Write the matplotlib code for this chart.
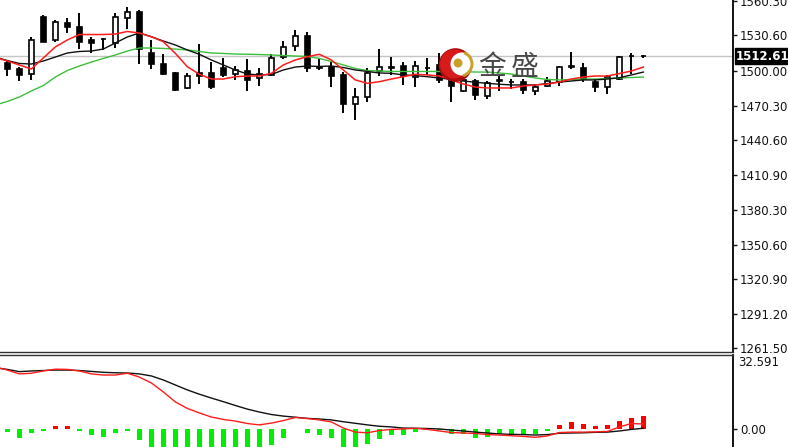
import numpy as np
import matplotlib
matplotlib.use("Agg")
import matplotlib.pyplot as plt
from matplotlib.patches import Circle, Wedge

# ---------------- data ----------------
opens = [1506.6, 1501.5, 1497.2, 1546.7, 1526.7, 1541.1, 1538.1, 1526.7, 1527.6, 1523.8,
         1545.6, 1551.2, 1515.7, 1505.8, 1498.0, 1485.1, 1498.0, 1498.0, 1502.8, 1497.2,
         1500.0, 1494.2, 1496.6, 1512.3, 1521.8, 1530.4, 1503.7, 1503.7, 1496.6, 1471.3,
         1477.9, 1500.0, 1502.8, 1504.6, 1495.1, 1502.3, 1505.2, 1498.3, 1482.8, 1491.4,
         1478.7, 1492.3, 1490.6, 1490.8, 1482.8, 1487.1, 1490.3, 1503.5, 1502.8, 1490.8,
         1486.5, 1493.1, 1512.6, 1512.9]
highs = [1509.5, 1503.7, 1529.5, 1548.2, 1543.9, 1545.4, 1549.7, 1529.5, 1528.0, 1549.7,
         1555.5, 1552.5, 1526.7, 1514.4, 1499.4, 1498.0, 1523.0, 1507.5, 1510.9, 1504.6,
         1510.3, 1502.8, 1514.4, 1525.8, 1535.3, 1533.8, 1511.4, 1507.5, 1499.4, 1485.6,
         1502.8, 1518.9, 1512.3, 1508.0, 1508.6, 1510.9, 1515.2, 1500.9, 1494.0, 1493.1,
         1491.4, 1495.7, 1493.1, 1493.1, 1488.6, 1495.1, 1503.9, 1516.6, 1506.6, 1493.1,
         1496.6, 1513.2, 1515.2, 1513.8]
lows = [1496.0, 1491.4, 1492.3, 1524.7, 1525.2, 1532.4, 1518.9, 1515.2, 1518.1, 1520.1,
        1536.1, 1506.0, 1501.7, 1496.6, 1482.8, 1484.5, 1488.6, 1484.5, 1495.1, 1492.3,
        1482.8, 1487.3, 1495.7, 1510.3, 1517.2, 1499.4, 1500.9, 1486.0, 1463.6, 1457.8,
        1473.1, 1496.0, 1496.6, 1488.0, 1486.5, 1496.6, 1489.4, 1473.3, 1481.7, 1475.0,
        1475.9, 1482.8, 1484.5, 1479.9, 1479.3, 1486.5, 1487.3, 1501.7, 1490.3, 1482.2,
        1479.9, 1492.3, 1497.8, 1511.5]
closes = [1501.5, 1496.6, 1526.7, 1525.2, 1542.4, 1537.6, 1525.2, 1523.8, 1527.2, 1546.7,
          1550.8, 1518.9, 1505.8, 1497.2, 1483.6, 1496.0, 1496.0, 1486.5, 1496.6, 1500.6,
          1492.3, 1497.4, 1511.4, 1520.9, 1530.4, 1502.3, 1502.6, 1495.7, 1471.3, 1477.9,
          1498.0, 1503.7, 1503.0, 1496.0, 1504.6, 1502.6, 1492.3, 1487.1, 1492.3, 1479.3,
          1489.4, 1491.4, 1490.2, 1483.6, 1486.5, 1491.4, 1503.7, 1503.9, 1493.1, 1486.5,
          1495.1, 1512.3, 1512.9, 1512.61]

# moving averages (first value belongs to the bar just before the first visible one)
ma_fast = [1511.6, 1508.6, 1505.2, 1501.7, 1511.2, 1520.7, 1526.7, 1531.4, 1531.4, 1531.4,
           1531.8, 1534.0, 1532.7, 1529.5, 1525.2, 1515.2, 1503.7, 1497.2, 1493.1, 1493.1,
           1495.1, 1495.7, 1495.7, 1498.0, 1505.2, 1509.5, 1512.3, 1514.4, 1509.5, 1500.9,
           1492.3, 1489.4, 1490.8, 1493.1, 1495.1, 1497.2, 1496.6, 1495.7, 1492.3, 1488.8,
           1486.2, 1485.4, 1485.4, 1485.4, 1487.1, 1488.0, 1488.8, 1490.5, 1493.1, 1494.8,
           1495.7, 1495.7, 1497.8, 1500.0, 1503.4]
ma_mid = [1512.0, 1509.0, 1506.5, 1506.0, 1508.6, 1512.0, 1515.5, 1516.8, 1517.2, 1518.9,
          1524.1, 1529.3, 1532.7, 1529.5, 1525.8, 1522.4, 1518.1, 1514.4, 1509.5, 1505.2,
          1500.9, 1497.4, 1496.6, 1497.0, 1500.9, 1503.4, 1504.3, 1503.9, 1504.3, 1503.0,
          1500.9, 1499.6, 1498.3, 1498.0, 1496.6, 1496.0, 1495.1, 1494.0, 1492.7, 1491.4,
          1490.3, 1489.4, 1488.6, 1488.0, 1488.0, 1488.0, 1489.2, 1490.5, 1491.4, 1492.3,
          1492.3, 1493.1, 1494.2, 1496.6, 1499.1]
ma_slow = [1470.7, 1473.8, 1477.6, 1482.8, 1487.5, 1494.8, 1500.4, 1504.3, 1507.7, 1510.8,
           1513.8, 1517.2, 1519.8, 1519.8, 1519.4, 1518.9, 1518.1, 1516.8, 1515.5, 1515.1,
           1514.6, 1514.4, 1514.2, 1513.8, 1513.3, 1512.9, 1512.5, 1510.8, 1508.2, 1505.2,
           1502.2, 1500.4, 1500.0, 1499.6, 1499.6, 1499.6, 1499.6, 1499.6, 1499.6, 1499.6,
           1499.1, 1499.1, 1498.3, 1497.4, 1495.7, 1494.0, 1492.7, 1492.3, 1492.7, 1493.1,
           1493.1, 1493.5, 1494.0, 1494.4, 1494.8]

# MACD
dif = [27.3, 25.9, 24.2, 24.5, 25.5, 26.3, 26.2, 25.5, 24.2, 23.7,
       23.7, 24.5, 22.8, 20.2, 16.2, 11.8, 8.9, 6.9, 5.1, 4.0,
       3.3, 2.2, 1.6, 2.4, 3.5, 4.9, 4.4, 3.8, 2.9, 0.2,
       -1.6, -1.9, -0.9, -0.4, -0.2, 0.1, -0.4, -1.1, -1.8, -2.0,
       -2.2, -2.7, -2.9, -3.2, -3.5, -3.9, -3.3, -1.8, -1.6, -1.6,
       -1.5, -1.3, 0.7, 2.2, 2.0]
dea = [26.9, 26.2, 25.2, 25.5, 25.7, 25.9, 25.9, 25.7, 25.3, 24.9,
       24.7, 24.6, 24.2, 23.3, 21.5, 19.3, 17.1, 15.2, 13.5, 11.9,
       10.2, 8.6, 7.3, 6.2, 5.5, 5.0, 4.5, 4.2, 3.8, 3.0,
       2.3, 1.6, 1.0, 0.7, 0.2, 0.1, 0.0, -0.2, -0.7, -1.1,
       -1.6, -2.0, -2.4, -2.6, -2.7, -2.9, -2.7, -2.1, -2.0, -1.9,
       -1.7, -1.6, -1.1, -0.4, 0.1]
hist = [-1.5, -4.1, -2.2, -1.2, 1.0, 1.2, -0.9, -3.0, -3.7, -2.2,
        -1.2, -4.9, -9.5, -11.5, -13.0, -13.5, -13.0, -12.5, -11.5, -10.5,
        -9.5, -9.0, -7.4, -4.1, -0.4, -1.8, -2.7, -4.4, -9.0, -8.6,
        -6.7, -4.7, -3.0, -3.0, -1.5, -0.2, -0.8, -2.4, -2.4, -4.0,
        -3.6, -2.5, -2.5, -2.5, -2.5, -1.2, 1.5, 2.8, 1.9, 1.0,
        1.5, 3.5, 4.8, 5.6]

price_ticks = [1560.30, 1530.60, 1500.00, 1470.30, 1440.60, 1410.90,
               1380.30, 1350.60, 1320.90, 1291.20, 1261.50]
price_labels = ["1560.30", "1530.60", "1500.00", "1470.30", "1440.60", "1410.90",
                "1380.30", "1350.60", "1320.90", "1291.20", "1261.50"]
last_price = 1512.61
macd_max_label = "32.591"

# ---------------- figure ----------------
W, H = 788, 447
fig = plt.figure(figsize=(W / 100, H / 100), dpi=100)
fig.patch.set_facecolor("white")


def box(x0, y0, x1, y1):
    return [x0 / W, 1 - y1 / H, (x1 - x0) / W, (y1 - y0) / H]


ax = fig.add_axes(box(0, 0, 733, 352))
ax2 = fig.add_axes(box(0, 354.5, 733, 447))

n = len(opens)
idx = np.arange(n)
ma_x = np.arange(-1, n)
o = np.array(opens); h = np.array(highs); l = np.array(lows); c = np.array(closes)
up = c >= o

XL = (-0.61, 60.47)
TXT = "#141414"

# main panel
ax.set_xlim(*XL)
ax.set_ylim(1258.2, 1561.1)
ax.axhline(last_price, color="#c4c4c4", lw=1.0, zorder=1)
ax.vlines(idx, l, h, color="black", lw=1.4, zorder=2)
body_bottom = np.minimum(o, c)
body_h = np.maximum(np.abs(c - o), 0.35)
ax.bar(idx, body_h, bottom=body_bottom, width=0.42,
       color=np.where(up, "white", "black"), edgecolor="black", linewidth=1.2, zorder=3)
ax.plot(ma_x, ma_slow, color="#3cbf3c", lw=1.0, zorder=4)
ax.plot(ma_x, ma_mid, color="#111111", lw=1.0, zorder=4)
ax.plot(ma_x, ma_fast, color="#ff1c1c", lw=1.1, zorder=5)

ax.yaxis.tick_right()
ax.set_yticks(price_ticks)
ax.set_yticklabels(price_labels)
ax.set_xticks([])
ax.tick_params(axis="y", direction="out", length=3, width=1, pad=2,
               labelsize=8.5, colors=TXT)
for s in ("left", "top"):
    ax.spines[s].set_visible(False)
ax.spines["right"].set_linewidth(1.3)
ax.spines["bottom"].set_linewidth(1.0)
ax.spines["bottom"].set_color("#333333")

ax.text(1.0 + 3 / 733, last_price, "1512.61", transform=ax.get_yaxis_transform(),
        ha="left", va="center", color="white", fontsize=8.5, fontweight="bold",
        bbox=dict(boxstyle="square,pad=0.12", fc="black", ec="black"), zorder=10,
        clip_on=False)

# MACD panel
ax2.set_xlim(*XL)
ax2.set_ylim(-8.2, 32.8)
hist_a = np.array(hist)
ax2.bar(idx, hist_a, width=0.38, color=np.where(hist_a >= 0, "#ff0000", "#00ee00"),
        zorder=2)
ax2.plot(ma_x, dea, color="#111111", lw=1.0, zorder=3)
ax2.plot(ma_x, dif, color="#ff1c1c", lw=1.0, zorder=4)
ax2.yaxis.tick_right()
ax2.set_yticks([0])
ax2.set_yticklabels(["0.00"])
ax2.set_xticks([])
ax2.tick_params(axis="y", direction="out", length=3, width=1, pad=2,
                labelsize=8.5, colors=TXT)
for s in ("left", "bottom"):
    ax2.spines[s].set_visible(False)
ax2.spines["right"].set_linewidth(1.3)
ax2.spines["top"].set_linewidth(1.0)
ax2.spines["top"].set_color("#333333")
ax2.text(1.0 + 5 / 733, 0.985, macd_max_label, transform=ax2.transAxes, ha="left",
         va="top", fontsize=8.5, color=TXT)

# watermark logo
lax = fig.add_axes(box(436, 46, 476, 86))
lax.set_xlim(436, 476)
lax.set_ylim(86, 46)
lax.set_aspect("equal")
lax.axis("off")
lax.add_patch(Circle((455.5, 65), 16.8, fc="#a80c0c", ec="none"))
lax.add_patch(Circle((454.5, 64), 14.5, fc="#d81a1a", ec="none"))
lax.add_patch(Circle((462, 64), 11.5, fc="white", ec="none"))
lax.add_patch(Wedge((460, 64), 13.5, -70, 75, width=3.0, fc="#c9a02a", ec="none"))
lax.add_patch(Circle((458, 63), 4.5, fc="#c8a028", ec="none"))

fig.text(492 / W, 1 - 67 / H, "金", fontsize=20, color="#484848",
         family=["Noto Sans CJK SC", "DejaVu Sans"], ha="center", va="center")
fig.text(525 / W, 1 - 67 / H, "盛", fontsize=20, color="#484848",
         family=["Noto Sans CJK SC", "DejaVu Sans"], ha="center", va="center")

fig.savefig("out.png", dpi=100, facecolor="white")
